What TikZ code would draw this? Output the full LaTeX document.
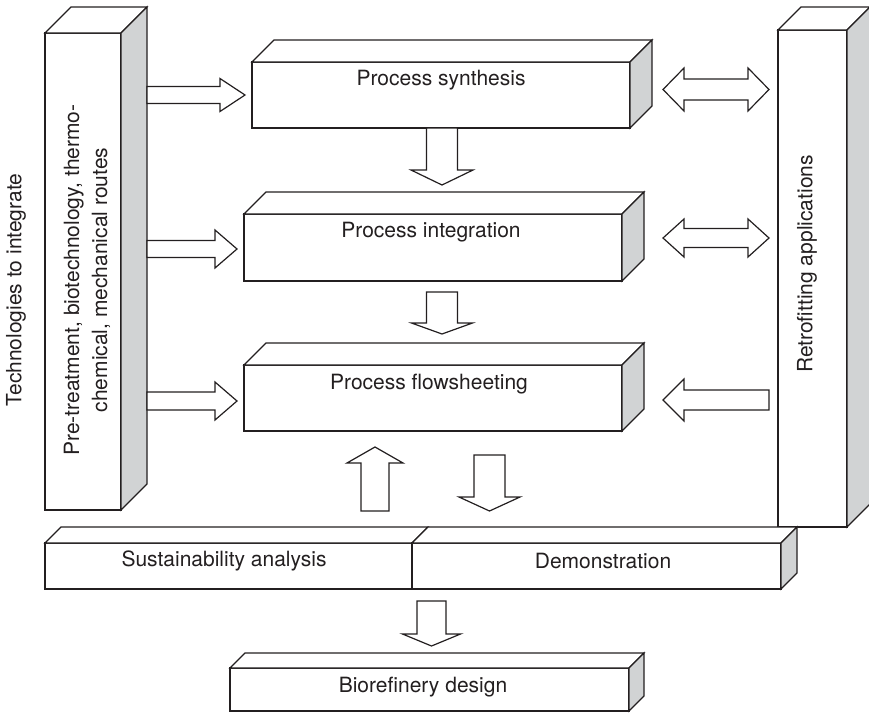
\documentclass[tikz,border=0pt]{standalone}
\usepackage{fontspec}
\setmainfont{TeX Gyre Heros}
\usetikzlibrary{calc}
\definecolor{ink}{HTML}{231F20}
\definecolor{shade}{HTML}{D1D3D4}
\tikzset{
  topf/.style={draw=ink, fill=white, line width=1.2pt, line join=miter},
  sidef/.style={draw=ink, fill=shade, line width=1.2pt, line join=miter},
  frontbox/.style={draw=ink, fill=white, line width=1.2pt, inner sep=0pt, outer sep=0pt, anchor=north west},
  lbl/.style={text=ink, font=\fontsize{21}{28}\selectfont, inner sep=0pt},
  barrow/.style={draw=ink, fill=white, line width=1.2pt, line join=miter},
}
% #1 node name, #2 depth
\newcommand\cubefaces[2]{%
  \filldraw[topf] (#1.north west) -- ++(#2,-#2) -- ($(#1.north east)+(#2,-#2)$) -- (#1.north east) -- cycle;
  \filldraw[sidef] (#1.north east) -- ++(#2,-#2) -- ($(#1.south east)+(#2,-#2)$) -- (#1.south east) -- cycle;}
\newcommand\cubetop[2]{%
  \filldraw[topf] (#1.north west) -- ++(#2,-#2) -- ($(#1.north east)+(#2,-#2)$) -- (#1.north east) -- cycle;}
% right arrow: tail x, tip x, y, shaft half, head half, head length
\newcommand\arrR[6]{\filldraw[barrow] (#1,#3-#4) -- (#2-#6,#3-#4) -- (#2-#6,#3-#5) -- (#2,#3) -- (#2-#6,#3+#5) -- (#2-#6,#3+#4) -- (#1,#3+#4) -- cycle;}
% left arrow: tip x, tail x, y, ...
\newcommand\arrL[6]{\filldraw[barrow] (#2,#3-#4) -- (#1+#6,#3-#4) -- (#1+#6,#3-#5) -- (#1,#3) -- (#1+#6,#3+#5) -- (#1+#6,#3+#4) -- (#2,#3+#4) -- cycle;}
% double arrow: left tip x, right tip x, y, ...
\newcommand\arrD[6]{\filldraw[barrow] (#1,#3) -- (#1+#6,#3-#5) -- (#1+#6,#3-#4) -- (#2-#6,#3-#4) -- (#2-#6,#3-#5) -- (#2,#3) -- (#2-#6,#3+#5) -- (#2-#6,#3+#4) -- (#1+#6,#3+#4) -- (#1+#6,#3+#5) -- cycle;}
% down arrow: x, top y, tip y, ...
\newcommand\arrDn[6]{\filldraw[barrow] (#1-#4,#2) -- (#1+#4,#2) -- (#1+#4,#3-#6) -- (#1+#5,#3-#6) -- (#1,#3) -- (#1-#5,#3-#6) -- (#1-#4,#3-#6) -- cycle;}
% up arrow: x, bottom y, tip y, ...
\newcommand\arrUp[6]{\filldraw[barrow] (#1-#4,#2) -- (#1+#4,#2) -- (#1+#4,#3+#6) -- (#1+#5,#3+#6) -- (#1,#3) -- (#1-#5,#3+#6) -- (#1-#4,#3+#6) -- cycle;}
\begin{document}
\begin{tikzpicture}[x=1pt,y=-1pt]
\useasboundingbox (0,0) rectangle (869,712);

% left column
\node[frontbox, minimum width=76pt, minimum height=477pt] (tech) at (45,33) {};
\cubefaces{tech}{26}
\node[lbl, rotate=90] (techlbl) at (16,290) {Technologies to integrate};
\node[lbl, rotate=90, align=center] (techtxt) at (87,280) {Pre-treatment, biotechnology, thermo-\\chemical, mechanical routes};

% right column
\node[frontbox, minimum width=69pt, minimum height=497pt] (retro) at (778,30) {};
\cubefaces{retro}{23}
\node[lbl, rotate=90] (retrolbl) at (807,264) {Retrofitting applications};

% process boxes
\node[frontbox, minimum width=378pt, minimum height=66pt] (syn) at (252,62) {};
\cubefaces{syn}{22}
\node[lbl] (synlbl) at (441,80) {Process synthesis};

\node[frontbox, minimum width=378pt, minimum height=67pt] (int) at (244,214) {};
\cubefaces{int}{22}
\node[lbl] (intlbl) at (431,232) {Process integration};

\node[frontbox, minimum width=378pt, minimum height=66pt] (flow) at (244,365) {};
\cubefaces{flow}{22}
\node[lbl] (flowlbl) at (429,384) {Process flowsheeting};

% arrows from left column
\arrR{147}{245}{95}{8.5}{16.5}{25}
\arrR{147}{237}{249}{8.5}{19}{22}
\arrR{147}{237}{401}{9}{19}{22}

% arrows with right column
\arrD{663}{769}{89.5}{10.5}{21.5}{21}
\arrD{663}{769}{238}{9.5}{19}{21}
\arrL{663}{769}{400}{10}{21}{21}

% vertical arrows
\arrDn{442}{128}{185}{15.5}{31}{15}
\arrDn{442}{292}{334}{15.5}{30.5}{11}
\arrUp{375}{511}{447}{14}{28}{16}
\arrDn{489.5}{455}{511}{15.5}{30.5}{14}

% bottom boxes
\node[frontbox, minimum width=367pt, minimum height=46pt] (sust) at (45,543) {};
\cubetop{sust}{16}
\node[frontbox, minimum width=369pt, minimum height=46pt] (demo) at (412,543) {};
\cubefaces{demo}{16}
\node[lbl] (sustlbl) at (224,561) {Sustainability analysis};
\node[lbl] (demolbl) at (603,561) {Demonstration};

\arrDn{431.5}{601}{646}{14.5}{29}{12}

% biorefinery
\node[frontbox, minimum width=399pt, minimum height=43pt] (bio) at (230,668) {};
\cubefaces{bio}{15}
\node[lbl] (biolbl) at (423,687) {Biorefinery design};
\end{tikzpicture}
\end{document}
